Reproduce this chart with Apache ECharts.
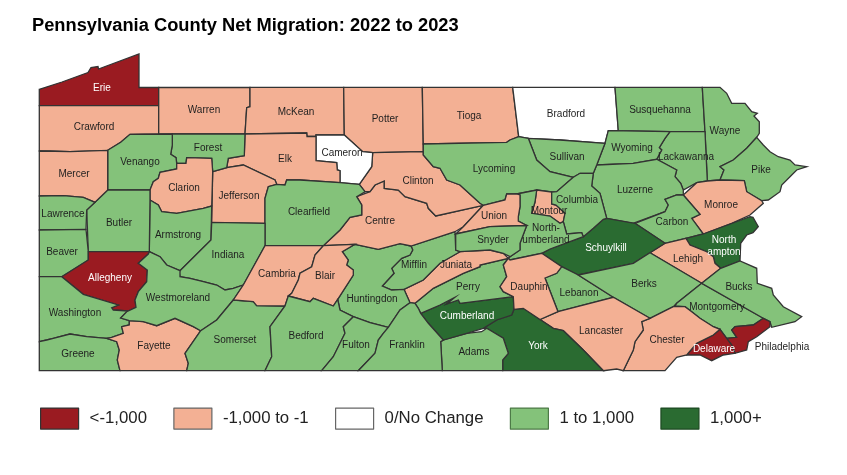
<!DOCTYPE html>
<html><head><meta charset="utf-8">
<style>html,body{margin:0;padding:0;background:#fff}#c{width:847px;height:475px}</style>
<script src="https://cdn.jsdelivr.net/npm/echarts@6/dist/echarts.min.js"></script>
</head><body><div id="c"></div>
<script>
const titleText = 'Pennsylvania County Net Migration: 2022 to 2023';
const classNames = ['<-1,000', '-1,000 to -1', '0/No Change', '1 to 1,000', '1,000+'];
const classColors = ['#9a1b21', '#f3b094', '#ffffff', '#84c27a', '#2a6b31'];
const classBorders = ['#333333', '#666666', '#666666', '#4d7a47', '#1d4a22'];

const lossLarge = ['Erie', 'Allegheny', 'Delaware', 'Philadelphia'];
const lossSmall = ['Crawford', 'Warren', 'McKean', 'Potter', 'Tioga', 'Mercer', 'Clarion', 'Jefferson', 'Elk', 'Clinton', 'Centre', 'Union', 'Montour', 'Monroe', 'Lehigh', 'Juniata', 'Dauphin', 'Lancaster', 'Chester', 'Cambria', 'Blair', 'Fayette'];
const noChange = ['Bradford', 'Cameron'];
const gainLarge = ['Schuylkill', 'Northampton', 'Cumberland', 'York'];
const gainSmall = ['Susquehanna', 'Wayne', 'Pike', 'Wyoming', 'Lackawanna', 'Luzerne', 'Carbon', 'Sullivan', 'Lycoming', 'Columbia', 'Northumberland', 'Snyder', 'Forest', 'Venango', 'Clearfield', 'Lawrence', 'Butler', 'Beaver', 'Armstrong', 'Indiana', 'Westmoreland', 'Washington', 'Greene', 'Somerset', 'Bedford', 'Fulton', 'Huntingdon', 'Mifflin', 'Perry', 'Lebanon', 'Berks', 'Bucks', 'Montgomery', 'Franklin', 'Adams'];
const classMembers = [lossLarge, lossSmall, noChange, gainSmall, gainLarge];

const labelText = { Northampton: 'North\nampton', Northumberland: 'North-\numberland' };

// Map geometry: county outlines (x, y down).
const outlines = {
Erie:[[39.3,89.3],[62,82],[88,72.5],[91,67.5],[98,66.5],[98.5,69],[139,54],[139,87.5],[158.7,87.5],[158.7,105.7],[39.3,105.7]],
Crawford:[[39.3,105.7],[158.7,105.7],[158.7,134],[130,134.3],[120.7,142.3],[107.7,150.3],[70,151.7],[50,151],[39.3,151]],
Warren:[[158.7,87.5],[250,87.3],[250,106.7],[246.7,107.7],[245,134],[158.7,134]],
McKean:[[250,87.3],[343.7,87.3],[344.3,135],[316,135],[316,136.5],[307,136.5],[306.7,133],[245,134],[246.7,107.7],[250,106.7]],
Potter:[[343.7,87.3],[422.3,87.3],[423.3,151.7],[372.7,152.7],[362.7,151.7],[344.3,135]],
Tioga:[[422.3,87.3],[512.7,87.3],[518.7,136.7],[510,140],[506.7,142.3],[423.3,144]],
Bradford:[[512.7,87.3],[615,87.3],[618.3,130.7],[608.3,130.7],[605,143.3],[560,140],[528.3,138.3],[518.7,136.7]],
Susquehanna:[[615,87.3],[702.3,87.3],[705,131.7],[670,131.7],[618.3,130.7]],
Wayne:[[702.3,87.3],[720,87.3],[726.7,93.3],[731.7,103.3],[745,103.3],[751.7,111.7],[757.3,113.3],[754,116],[759.3,121.7],[759.3,133.3],[756.7,137.3],[746.7,148.3],[733.3,160],[720,166.7],[724,170],[720,180],[707.3,181],[705,131.7]],
Pike:[[756.7,137.3],[763.3,145],[770,151.7],[778.3,156.7],[790,160],[795,165],[806.7,166.7],[796.7,170],[790,176.7],[781.7,185],[780,191.7],[768.3,200],[761.7,200.7],[746.7,191.7],[744.3,180.7],[720,180],[724,170],[720,166.7],[733.3,160],[746.7,148.3]],
Lackawanna:[[670,131.7],[705,131.7],[707.3,181],[696.7,182.7],[683.3,190],[680.7,183.3],[675,176.7],[676.7,170],[656.7,159.3],[661.7,150],[659.3,147.7],[665,138.3]],
Wyoming:[[608.3,130.7],[670,131.7],[665,138.3],[659.3,147.7],[661.7,150],[656.7,159.3],[633.3,163.3],[596.7,165],[605,143.3]],
Luzerne:[[596.7,165],[633.3,163.3],[656.7,159.3],[676.7,170],[675,176.7],[680.7,183.3],[683.3,190],[683.3,195],[676.7,195],[665,199.3],[668.3,205],[665,211.7],[633,223.3],[606.7,218.3],[600,193.3],[591.7,186],[593.3,173.3]],
Monroe:[[683.3,195],[696.7,182.7],[707.3,181],[720,180],[744.3,180.7],[746.7,191.7],[761.7,200.7],[763.3,203.3],[750,215],[731.7,223.3],[703.3,234],[691.7,218.3],[700,214.3]],
Carbon:[[683.3,195],[700,214.3],[691.7,218.3],[703.3,234],[686,238.3],[665,243.3],[635,223.3],[665,211.7],[668.3,205],[665,199.3],[676.7,195]],
Northampton:[[686,238.3],[703.3,234],[750,216.7],[753,217.3],[758.3,226.7],[753,232.7],[746.7,235],[740.7,243.3],[740,261],[720.7,268.3],[715,263.3],[713.3,256.7],[706.7,251.7],[690,245]],
Lehigh:[[686,238.3],[690,245],[706.7,251.7],[713.3,256.7],[715,263.3],[720.7,268.3],[701.7,283.3],[650,252.7],[665,243.3]],
Schuylkill:[[541.7,253.3],[550,249],[583.3,236.7],[593.3,228.3],[603.3,219.3],[606.7,218.3],[635,223.3],[665,243.3],[650,252.7],[633.3,263.3],[578.3,275],[561.7,266.7]],
Lebanon:[[545,278],[556.7,273.3],[561.7,266.7],[578.3,275],[613.3,297.3],[558,311.7]],
Berks:[[578.3,275],[633.3,263.3],[650,252.7],[701.7,283.3],[676.7,303.3],[673.3,306.7],[650,318.3],[613.3,297.3]],
Montgomery:[[701.7,283.3],[763.3,318.3],[753.3,325],[735,326.7],[731.7,330],[736.7,337.3],[726.7,338.3],[720,329.3],[713.3,326.7],[700,318.3],[691.7,311.7],[685,306.7],[675,306],[676.7,303.3]],
Bucks:[[701.7,283.3],[720.7,268.3],[740,261],[756.7,268.3],[757.3,283.3],[771.7,288.3],[773.3,295],[783.3,306.7],[801.7,316.7],[795,321.7],[771.7,327.3],[770,321.7],[763.3,318.3]],
Philadelphia:[[763.3,318.3],[770,321.7],[770,326.7],[756.7,336.7],[748.3,341.7],[746.7,350],[735,353.3],[731.7,345],[726.7,338.3],[736.7,337.3],[731.7,330],[735,326.7],[753.3,325]],
Delaware:[[720,329.3],[726.7,338.3],[731.7,345],[735,353.3],[723.3,355],[711.7,360.7],[700,355],[686.7,355],[696.7,343.3],[713.3,335]],
Chester:[[643.3,330],[641.7,321.7],[650,318.3],[673.3,306.7],[685,306.7],[691.7,311.7],[700,318.3],[713.3,326.7],[720,329.3],[713.3,335],[696.7,343.3],[686.7,355],[676.7,357.3],[665,370.7],[623.3,370.7],[633.3,350],[635,341.7]],
Lancaster:[[540,319.5],[558,311.7],[613.3,297.3],[650,318.3],[641.7,321.7],[643.3,330],[635,341.7],[633.3,350],[623.3,370.7],[616.7,369],[603.3,370.7],[583.3,350],[563.3,330.7],[553.3,328.3]],
York:[[483.3,328.3],[496.7,320],[511.7,315],[514,309.3],[523.3,308.3],[540,319.5],[553.3,328.3],[563.3,330.7],[583.3,350],[603.3,370.7],[502.7,370.7],[502.7,360],[508.3,353.3],[503.3,338.3],[486.7,328.3]],
Adams:[[440.7,341.7],[443.3,340],[466.7,333.3],[481.7,331.7],[486.7,328.3],[503.3,338.3],[508.3,353.3],[502.7,360],[502.7,370.7],[442.3,370.7]],
Cumberland:[[420.7,313.3],[440,305],[455,297.3],[446.7,304],[458.3,300],[460,303.3],[513.3,296.7],[514,309.3],[511.7,315],[496.7,320],[483.3,328.3],[466.7,333.3],[443.3,340],[428.3,323.3]],
Perry:[[415,303.3],[433.3,288.3],[463.3,273.3],[480,266.7],[480,265],[508.3,258.3],[503.3,265],[506.7,276.7],[500,286.7],[503.3,291.7],[513.3,296.7],[460,303.3],[458.3,300],[446.7,304],[455,297.3],[440,305],[420.7,313.3],[418.3,308.3]],
Juniata:[[404,289.3],[423.3,280],[440,263.3],[460,251.7],[490,250],[503.3,253.3],[508.3,258.3],[480,265],[480,266.7],[463.3,273.3],[433.3,288.3],[415,303.3],[410,302.7]],
Mifflin:[[411,246],[455,231.7],[455.7,250],[460,251.7],[440,263.3],[423.3,280],[404,289.3],[391.7,290],[382.3,286],[394,273.3],[391.7,268.3],[401.7,258.3],[410,255],[412.7,250]],
Huntingdon:[[342.3,251.7],[355,244.3],[378.3,249.3],[400,243.7],[411,246],[412.7,250],[410,255],[401.7,258.3],[391.7,268.3],[394,273.3],[382.3,286],[391.7,290],[404,289.3],[410,302.7],[400,310],[388.3,327.3],[370,322.7],[353.3,316.7],[340,310],[337.7,299.3],[353.3,275],[353.3,270],[346.7,265],[348.3,260]],
Centre:[[323.3,245.7],[340,230],[350,217.3],[361.7,215],[361.7,205],[356.7,196.7],[370,191.7],[375,185],[384.3,181],[384.3,188.3],[398.3,190],[405,196.7],[426.7,203.3],[428.3,208.3],[435.7,216],[483.3,205.3],[463.3,226.7],[455,231.7],[411,246],[400,243.7],[378.3,249.3],[355,244.3]],
Clinton:[[372.7,152.7],[423.3,151.7],[423.3,155],[433.3,166.7],[440,168.3],[446.7,180],[460,185],[480,203.3],[483.3,205.3],[435.7,216],[428.3,208.3],[426.7,203.3],[405,196.7],[398.3,190],[384.3,188.3],[384.3,181],[375,185],[370,191.7],[365,191.7],[359.3,184.3],[371.7,166.7]],
Cameron:[[316,135],[344.3,135],[362.7,151.7],[372.7,152.7],[371.7,166.7],[359.3,184.3],[340,182.7],[340,170.7],[337.3,170],[336.7,162.7],[316,160.7]],
Elk:[[245,134],[306.7,133],[307,136.5],[316,136.5],[316,160.7],[336.7,162.7],[337.3,170],[340,170.7],[340,182.7],[300,180],[286.7,180],[285,185],[276.7,184.3],[275,180],[243.3,165],[226.7,167.7],[228.3,158.3],[244.3,155.7]],
Jefferson:[[212.7,171.7],[226.7,167.7],[243.3,165],[275,180],[276.7,184.3],[268.3,186.7],[265,198.3],[265,223.3],[211.7,222.3]],
Clearfield:[[268.3,186.7],[276.7,184.3],[285,185],[286.7,180],[300,180],[340,182.7],[359.3,184.3],[365,191.7],[356.7,196.7],[361.7,205],[361.7,215],[350,217.3],[340,230],[323.3,245.7],[265,245.7],[265,198.3]],
Forest:[[172.3,134],[245,134],[244.3,155.7],[228.3,158.3],[226.7,167.7],[212.7,171.7],[211.7,158.3],[186.7,157.7],[186,163.3],[176.7,163.3],[176,157.7],[170.7,154.3],[172.3,145]],
Venango:[[130,134.3],[172.3,134],[172.3,145],[170.7,154.3],[176,157.7],[176.7,163.3],[176.7,169],[160,172.3],[158.3,178.3],[153.3,181.7],[150,190],[107.7,190],[107.7,150.3],[120.7,142.3]],
Clarion:[[176.7,163.3],[186,163.3],[186.7,157.7],[211.7,158.3],[212.7,171.7],[211.7,206],[203.3,208.3],[176.7,213.3],[161.7,211.7],[158.3,205],[150,200],[150,190],[153.3,181.7],[158.3,178.3],[160,172.3],[176.7,169]],
Armstrong:[[150,200],[158.3,205],[161.7,211.7],[176.7,213.3],[203.3,208.3],[211.7,206],[211,240],[180,270.7],[166.7,265],[160,256.7],[149.3,251.7]],
Indiana:[[211.7,222.3],[265,223.3],[265,245.7],[243.3,285],[233.3,288.3],[225,290],[216.7,285],[203.3,281.7],[190,278.3],[180,276.7],[179,271.7],[180,270.7],[211,240]],
Butler:[[107.7,190],[150,190],[150,200],[149.3,251.7],[88.3,251.7],[86.7,210],[95,202.3]],
Mercer:[[39.3,151],[70,151.7],[107.7,150.3],[107.7,190],[95,202.3],[83.3,197.3],[63.3,195.7],[39.3,196]],
Lawrence:[[39.3,196],[63.3,195.7],[83.3,197.3],[95,202.3],[86.7,210],[86,229.3],[39.3,230]],
Beaver:[[39.3,230],[86,229.3],[88.3,251.7],[88.3,260],[61.7,276.7],[39.3,276.7]],
Allegheny:[[88.3,251.7],[149.3,251.7],[148.3,254],[138.3,263.3],[147.3,270],[146.7,281.7],[138.3,291.7],[135,300],[136,307.3],[128.3,311],[113.3,310],[111.7,307.7],[118.3,305],[83.3,294.3],[61.7,276.7],[88.3,260]],
Washington:[[39.3,276.7],[61.7,276.7],[83.3,294.3],[118.3,305],[111.7,307.7],[113.3,310],[128.3,311],[126.7,311.7],[120.7,318],[129.3,320.7],[129.3,325],[121.7,326.7],[123.3,333.3],[111.7,337.3],[106.7,338.3],[86.7,336.7],[70,334],[53.3,338.3],[46.7,340],[39.3,341.7]],
Greene:[[39.3,341.7],[46.7,340],[53.3,338.3],[70,334],[86.7,336.7],[106.7,338.3],[116.7,341.7],[119.3,350],[117.3,360],[120,370.7],[39.3,370.7]],
Fayette:[[106.7,338.3],[111.7,337.3],[123.3,333.3],[121.7,326.7],[129.3,325],[129.3,320.7],[143.3,321.7],[156.7,325.7],[175,318.3],[193.3,326.7],[200.7,330.7],[185,353.3],[188.3,363.3],[186.7,370.7],[120,370.7],[117.3,360],[119.3,350],[116.7,341.7]],
Westmoreland:[[149.3,251.7],[160,256.7],[166.7,265],[180,270.7],[179,271.7],[180,276.7],[190,278.3],[203.3,281.7],[216.7,285],[225,290],[233.3,288.3],[243.3,285],[233.3,300],[216.7,320],[200.7,330.7],[193.3,326.7],[175,318.3],[156.7,325.7],[143.3,321.7],[129.3,320.7],[120.7,318],[126.7,311.7],[128.3,311],[136,307.3],[135,300],[138.3,291.7],[146.7,281.7],[147.3,270],[138.3,263.3],[148.3,254]],
Somerset:[[200.7,330.7],[216.7,320],[233.3,300],[253.3,301.7],[256.7,305.7],[285,306],[270,326.7],[271.7,356.7],[265,370.7],[186.7,370.7],[188.3,363.3],[185,353.3]],
Cambria:[[265,245.7],[323.3,245.7],[315,255],[311.7,266.7],[300,273.3],[298.3,280],[291.7,293.3],[288.3,296],[285,306],[256.7,305.7],[253.3,301.7],[233.3,300],[243.3,285]],
Blair:[[323.3,245.7],[355,244.3],[342.3,251.7],[348.3,260],[346.7,265],[353.3,270],[353.3,275],[337.7,299.3],[333.3,306],[313.3,298.3],[310,301.7],[288.3,296],[291.7,293.3],[298.3,280],[300,273.3],[311.7,266.7],[315,255]],
Bedford:[[288.3,296],[310,301.7],[313.3,298.3],[333.3,306],[337.7,299.3],[340,310],[353.3,316.7],[343.3,326.7],[345,333.3],[333.3,356.7],[321.7,370.7],[265,370.7],[271.7,356.7],[270,326.7],[285,306]],
Fulton:[[353.3,316.7],[370,322.7],[388.3,327.3],[383.3,333.3],[378.3,340],[375,353.3],[358.3,370.7],[321.7,370.7],[333.3,356.7],[345,333.3],[343.3,326.7]],
Franklin:[[388.3,327.3],[400,310],[410,302.7],[415,303.3],[418.3,308.3],[420.7,313.3],[428.3,323.3],[443.3,340],[440.7,341.7],[442.3,370.7],[358.3,370.7],[375,353.3],[378.3,340],[383.3,333.3]],
Sullivan:[[528.3,138.3],[560,140],[605,143.3],[596.7,165],[593.3,173.3],[580,173.3],[573.3,177.3],[550,171.7],[536.7,160]],
Lycoming:[[423.3,144],[506.7,142.3],[510,140],[518.7,136.7],[528.3,138.3],[536.7,160],[550,171.7],[573.3,177.3],[556.7,191.7],[551.7,192],[536.7,190],[516.7,194],[506.7,194],[505,200],[483.3,205.3],[480,203.3],[460,185],[446.7,180],[440,168.3],[433.3,166.7],[423.3,155]],
Montour:[[536.7,190],[551.7,192],[551.7,204],[556,205],[565,213.3],[563.3,221.7],[560,223.3],[550,216],[531.7,213.3],[535,202]],
Columbia:[[573.3,177.3],[580,173.3],[593.3,173.3],[591.7,186],[600,193.3],[606.7,218.3],[603.3,219.3],[593.3,228.3],[583.3,236.7],[581.7,232.7],[566.7,234],[563.3,221.7],[565,213.3],[556,205],[551.7,204],[551.7,192],[556.7,191.7]],
Northumberland:[[516.7,194],[536.7,190],[535,202],[531.7,213.3],[550,216],[560,223.3],[563.3,221.7],[566.7,234],[581.7,232.7],[583.3,236.7],[550,249],[541.7,253.3],[510,260],[508.3,258.3],[510,256.7],[520,250],[520,243.3],[526.7,225.5],[518.3,221],[518.3,216.7],[520,206.7],[520,195]],
Union:[[483.3,205.3],[505,200],[506.7,194],[516.7,194],[520,195],[520,206.7],[518.3,216.7],[518.3,221],[526.7,225.5],[490,226.7],[455.7,234],[463.3,226.7]],
Snyder:[[455.7,234],[490,226.7],[526.7,225.5],[520,243.3],[520,250],[510,256.7],[503.3,253.3],[490,250],[460,251.7],[455.7,250]],
Dauphin:[[508.3,258.3],[510,260],[541.7,253.3],[561.7,266.7],[556.7,273.3],[545,278],[558,311.7],[540,319.5],[523.3,308.3],[514,309.3],[513.3,296.7],[503.3,291.7],[500,286.7],[506.7,276.7],[503.3,265]]
};

// Label anchor of each county.
const labelAnchors = {
Erie:[102,88],Crawford:[94,127],Warren:[204,110],McKean:[296,112],Potter:[385,119],Tioga:[469,116],Bradford:[566,114],Susquehanna:[660,110],Wayne:[725,131],Pike:[761,170],Wyoming:[632,148],Lackawanna:[686,157],Luzerne:[635,190],Monroe:[721,205],Carbon:[672,222],Northampton:[724,246],Sullivan:[567,157],Lycoming:[494,169],Columbia:[577,200],Montour:[549,211],Clinton:[418,181],Union:[494,216],Snyder:[493,240],Northumberland:[546,234],Schuylkill:[606,248],Cameron:[342,153],Elk:[285,159],Forest:[208,148],Venango:[140,162],Clarion:[184,188],Jefferson:[239,196],Clearfield:[309,212],Centre:[380,221],Mercer:[74,174],Lawrence:[63,214],Butler:[119,223],Beaver:[62,252],Armstrong:[178,235],Indiana:[228,255],Allegheny:[110,278],Cambria:[277,274],Blair:[325,276],Westmoreland:[178,298],Washington:[75,313],Fayette:[154,346],Greene:[78,354],Somerset:[235,340],Bedford:[306,336],Fulton:[356,345],Huntingdon:[372,299],Mifflin:[414,265],Juniata:[456,265],Perry:[468,287],Dauphin:[529,287],Lebanon:[579,293],Lancaster:[601,331],Berks:[644,284],Lehigh:[688,259],Montgomery:[717,307],Bucks:[739,287],Chester:[667,340],Delaware:[714,349],Philadelphia:[782,347],Cumberland:[467,316],York:[538,346],Adams:[474,352],Franklin:[407,345]
};

const flip = p => [p[0], -p[1]];
const features = Object.keys(outlines).map(name => ({
  type: 'Feature',
  properties: { name, cp: flip(labelAnchors[name]) },
  geometry: { type: 'Polygon', coordinates: [outlines[name].concat([outlines[name][0]]).map(flip)] }
}));
echarts.registerMap('pa', { type: 'FeatureCollection', features });

const mapData = [];
classMembers.forEach((members, ci) => members.forEach(name => {
  const dark = (ci === 0 || ci === 4) && name !== 'Philadelphia';
  mapData.push({
    name, value: ci,
    itemStyle: { areaColor: classColors[ci] },
    label: { color: dark ? '#ffffff' : '#1f1f1f', formatter: labelText[name] || name }
  });
}));

const chart = echarts.init(document.getElementById('c'), null, { renderer: 'canvas' });
chart.setOption({
  animation: false,
  backgroundColor: '#fff',
  title: { text: titleText, left: 32, top: 17, padding: 0,
    textStyle: { fontFamily: 'Liberation Sans', fontWeight: 'bold', fontSize: 18.3, color: '#000' } },
  legend: {
    left: 40, top: 407.5, orient: 'horizontal', selectedMode: false, padding: 0,
    itemWidth: 38, itemHeight: 21, itemGap: 26.3,
    textStyle: { fontFamily: 'Liberation Sans', fontSize: 16.8, color: '#222', padding: [0, 0, 0, 6] },
    data: classNames.map((n, i) => ({ name: n, icon: 'rect',
      itemStyle: { color: classColors[i], borderColor: classBorders[i], borderWidth: 1.2 } }))
  },
  series: [{
    type: 'map', map: 'pa', roam: false, silent: true, selectedMode: false, showLegendSymbol: false,
    left: 39.3, top: 54, width: 767.4, height: 316.7, aspectScale: 1,
    itemStyle: { borderColor: '#333333', borderWidth: 1.3, areaColor: '#fff' },
    label: { show: true, fontFamily: 'Liberation Sans', fontSize: 10, color: '#1f1f1f', lineHeight: 12 },
    emphasis: { disabled: true },
    data: mapData
  }].concat(classNames.map((n, i) => ({
    type: 'pie', name: n, data: [], showEmptyCircle: false,
    itemStyle: { color: classColors[i] }
  })))
});
</script></body></html>
